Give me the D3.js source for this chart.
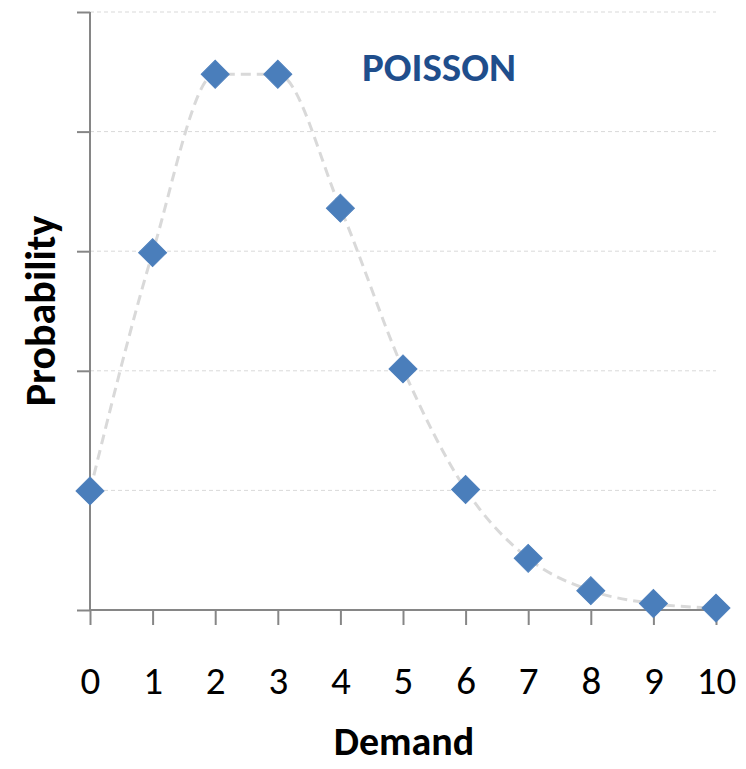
<!DOCTYPE html>
<html>
<head>
<meta charset="utf-8">
<script src="https://cdn.jsdelivr.net/npm/d3@7"></script>
<style>
  html, body { margin: 0; padding: 0; background: #fff; }
  svg { display: block; }
</style>
</head>
<body>
<svg id="chart" width="746" height="769"></svg>
<script>
// Poisson probabilities for demand 0..10
const demand = [0, 1, 2, 3, 4, 5, 6, 7, 8, 9, 10];
const probability = [0.0498, 0.1494, 0.2240, 0.2240, 0.1680, 0.1008, 0.0504, 0.0216, 0.0081, 0.0027, 0.0008];
const yTicks = [0, 0.05, 0.10, 0.15, 0.20, 0.25];
const chartTitle = "POISSON";
const xTitle = "Demand";
const yTitle = "Probability";

const svg = d3.select("#chart");
const plotLeft = 90, plotRight = 716, plotTop = 12, plotBottom = 610;

const x = d3.scaleLinear().domain([0, 10]).range([plotLeft, plotRight]);
const y = d3.scaleLinear().domain([0, 0.25]).range([plotBottom, plotTop]);

const font = "Calibri, Carlito, Lato, 'Open Sans', 'Liberation Sans', sans-serif";

// horizontal dashed gridlines
svg.append("g")
  .selectAll("line")
  .data(yTicks.filter(d => d > 0))
  .join("line")
  .attr("x1", plotLeft).attr("x2", plotRight)
  .attr("y1", d => y(d)).attr("y2", d => y(d))
  .attr("stroke", "#d9d9d9")
  .attr("stroke-width", 1)
  .attr("stroke-dasharray", "4,3");

// y axis: line with outward ticks, no labels
const yAxis = svg.append("g")
  .attr("transform", `translate(${plotLeft},0)`)
  .call(d3.axisLeft(y).tickValues(yTicks).tickSize(13).tickFormat(""));
yAxis.select(".domain").attr("stroke", "#868686").attr("stroke-width", 2).attr("d", `M0,${plotTop}V${plotBottom}`);
yAxis.selectAll(".tick line").attr("stroke", "#868686").attr("stroke-width", 2);

// x axis
const xAxis = svg.append("g")
  .attr("transform", `translate(0,${plotBottom})`)
  .call(d3.axisBottom(x).tickValues(demand).tickSize(15).tickPadding(41).tickFormat(d3.format("d")));
xAxis.select(".domain").attr("stroke", "#868686").attr("stroke-width", 2).attr("d", `M${plotLeft},0H${plotRight}`);
xAxis.selectAll(".tick line").attr("stroke", "#868686").attr("stroke-width", 2);
xAxis.selectAll(".tick text")
  .attr("fill", "#000")
  .attr("font-family", font)
  .attr("font-size", 39);

// smoothed dashed connecting line
const line = d3.line()
  .x((d, i) => x(demand[i]))
  .y(d => y(d))
  .curve(d3.curveMonotoneX);

svg.append("path")
  .datum(probability)
  .attr("d", line)
  .attr("fill", "none")
  .attr("stroke", "#d9d9d9")
  .attr("stroke-width", 3)
  .attr("stroke-dasharray", "10,6");

// diamond markers
const diamond = d3.symbol().type(d3.symbolSquare).size(392);
svg.append("g")
  .selectAll("path")
  .data(probability)
  .join("path")
  .attr("d", diamond)
  .attr("transform", (d, i) => `translate(${x(demand[i])},${y(d)}) rotate(45)`)
  .attr("fill", "#4a7ebb")
  .attr("stroke", "#4f81bd")
  .attr("stroke-width", 1);

// chart title
svg.append("text")
  .attr("x", 439).attr("y", 81)
  .attr("text-anchor", "middle")
  .attr("font-family", font)
  .attr("font-weight", "bold")
  .attr("font-size", 41)
  .attr("fill", "#1f4e8c")
  .text(chartTitle);

// axis titles
svg.append("text")
  .attr("x", 404).attr("y", 755)
  .attr("text-anchor", "middle")
  .attr("font-family", font)
  .attr("font-weight", "bold")
  .attr("font-size", 40)
  .attr("fill", "#000")
  .text(xTitle);

svg.append("text")
  .attr("transform", `translate(55,311) rotate(-90)`)
  .attr("text-anchor", "middle")
  .attr("font-family", font)
  .attr("font-weight", "bold")
  .attr("font-size", 42)
  .attr("fill", "#000")
  .text(yTitle);
</script>
</body>
</html>
